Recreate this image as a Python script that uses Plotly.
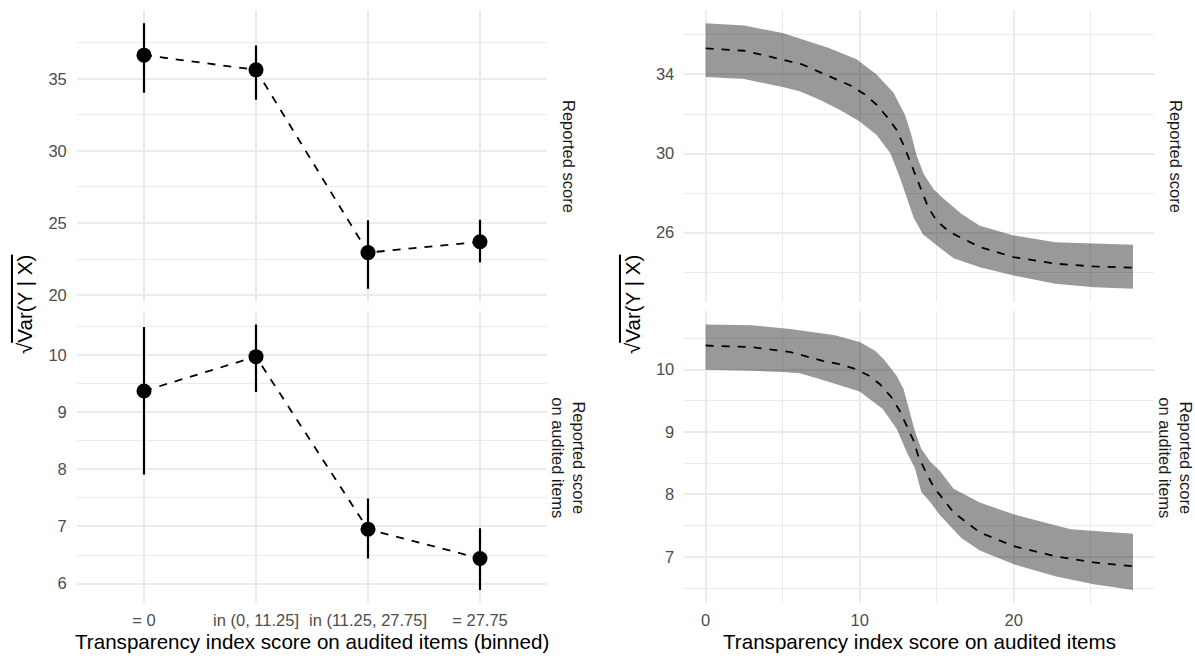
import plotly.graph_objects as go

# ---------------- data ----------------
bins = ["= 0", "in (0, 11.25]", "in (11.25, 27.75]", "= 27.75"]

reported_est = [36.64, 35.62, 22.95, 23.70]
reported_lo = [34.03, 33.55, 20.44, 22.27]
reported_hi = [38.85, 37.30, 25.20, 25.23]

audited_est = [9.37, 9.97, 6.95, 6.44]
audited_lo = [7.91, 9.35, 6.44, 5.89]
audited_hi = [10.49, 10.53, 7.49, 6.97]

# continuous fit, "Reported score"
rep_mean_x = [0, 2.5, 5, 6.3, 7.4, 8.4, 9.4, 10.35, 11.1, 11.85, 12.4, 12.85, 13.25,
              13.6, 14.0, 14.45, 15.0, 15.8, 17.8, 20, 22.7, 25.2, 27.75]
rep_mean_y = [35.32, 35.20, 34.75, 34.50, 34.12, 33.80, 33.44, 32.98, 32.47, 31.79, 31.19,
              30.43, 29.66, 28.90, 28.13, 27.28, 26.60, 26.05, 25.27, 24.76, 24.43, 24.29, 24.23]
rep_upper_x = [0, 2.5, 5, 8, 9.8, 11.1, 12.2, 12.95, 13.35, 13.7, 14.15, 14.8, 15.4,
               16.6, 17.8, 20, 22.7, 25.2, 27.75]
rep_upper_y = [36.59, 36.47, 36.10, 35.34, 34.77, 34.00, 33.07, 31.95, 30.95, 29.90, 28.98,
               28.20, 27.75, 26.95, 26.35, 25.86, 25.52, 25.44, 25.39]
rep_lower_x = [0, 2.5, 5, 6.1, 7.4, 8.7, 10.0, 11.1, 12.0, 12.6, 13.05, 13.5, 14.1,
               15.2, 16.1, 17.8, 20, 22.7, 25.2, 27.75]
rep_lower_y = [33.87, 33.77, 33.36, 33.15, 32.72, 32.21, 31.62, 30.94, 30.00, 28.81, 27.79,
               26.77, 25.92, 25.24, 24.70, 24.25, 23.83, 23.41, 23.24, 23.16]

# continuous fit, "Reported score on audited items"
aud_mean_x = [0, 3, 5.5, 7.6, 8.6, 9.6, 10.55, 11.3, 12.05, 12.6, 13.05, 13.5, 13.8,
              14.25, 14.8, 16.1, 17.8, 20, 22.7, 25.2, 27.75]
aud_mean_y = [10.385, 10.36, 10.28, 10.14, 10.09, 10.02, 9.91, 9.77, 9.56, 9.34, 9.10,
              8.86, 8.62, 8.38, 8.12, 7.71, 7.39, 7.17, 7.01, 6.91, 6.85]
aud_upper_x = [0, 3, 5.5, 8.4, 10, 11.0, 11.55, 12.4, 12.85, 13.25, 13.6, 14.0, 14.6,
               15.2, 16.1, 17.8, 20, 23.7, 27.75]
aud_upper_y = [10.72, 10.71, 10.65, 10.55, 10.44, 10.30, 10.17, 9.90, 9.69, 9.32, 9.00,
               8.73, 8.52, 8.38, 8.09, 7.87, 7.68, 7.44, 7.37]
aud_lower_x = [0, 3, 5, 6.1, 7.4, 10, 11.5, 12.4, 13.05, 13.6, 14.0, 14.6, 15.2, 16.6,
               17.8, 20, 22.7, 25.2, 27.75]
aud_lower_y = [9.995, 9.98, 9.96, 9.94, 9.85, 9.65, 9.37, 9.05, 8.68, 8.41, 8.04, 7.87,
               7.67, 7.30, 7.10, 6.88, 6.69, 6.56, 6.47]

strip_top = "Reported score"
strip_bottom = "Reported score<br>on audited items"
x_title_left = "Transparency index score on audited items (binned)"
x_title_right = "Transparency index score on audited items"
y_title = "√<span style='text-decoration:overline'>Var(Y | X)</span>"

# ---------------- style ----------------
W, H = 1195, 660
FONT = "Liberation Sans, Arial, Helvetica, sans-serif"
GRID = "#EBEBEB"
TICK_COL = "#4D4D4D"
TICK_SIZE = 16.5
TITLE_SIZE = 20.6
BAND = "rgba(0,0,0,0.4)"


def px_x(p):
    return p / W


def px_y(p):
    return 1 - p / H


LEFT_DOM = [px_x(76.8), px_x(547.2)]
RIGHT_DOM = [px_x(684.3), px_x(1154.4)]
TOP_DOM = [px_y(303), px_y(10)]
BOT_DOM = [px_y(605), px_y(312.3)]


def expand(lo, hi, f=0.05):
    s = hi - lo
    return [lo - f * s, hi + f * s]


fig = go.Figure()


def add_points(est, lo, hi, xa, ya):
    fig.add_trace(go.Scatter(
        x=bins, y=est, mode="lines", xaxis=xa, yaxis=ya,
        line=dict(color="black", width=1.8, dash="8px,8px"), hoverinfo="skip"))
    fig.add_trace(go.Scatter(
        x=bins, y=est, mode="markers", xaxis=xa, yaxis=ya,
        marker=dict(color="black", size=15),
        error_y=dict(type="data", symmetric=False,
                     array=[h - e for h, e in zip(hi, est)],
                     arrayminus=[e - l for e, l in zip(est, lo)],
                     width=0, thickness=2.2, color="black"),
        hoverinfo="skip"))


def add_band(mx, my, ux, uy, lx, ly, xa, ya):
    fig.add_trace(go.Scatter(
        x=list(ux) + list(lx)[::-1], y=list(uy) + list(ly)[::-1],
        mode="lines", fill="toself", fillcolor=BAND, line=dict(width=0),
        xaxis=xa, yaxis=ya, hoverinfo="skip"))
    fig.add_trace(go.Scatter(
        x=mx, y=my, mode="lines", xaxis=xa, yaxis=ya,
        line=dict(color="black", width=1.8, dash="8px,8px"), hoverinfo="skip"))


add_points(reported_est, reported_lo, reported_hi, "x", "y")
add_points(audited_est, audited_lo, audited_hi, "x2", "y2")
add_band(rep_mean_x, rep_mean_y, rep_upper_x, rep_upper_y, rep_lower_x, rep_lower_y, "x3", "y3")
add_band(aud_mean_x, aud_mean_y, aud_upper_x, aud_upper_y, aud_lower_x, aud_lower_y, "x4", "y4")

base = dict(showline=False, zeroline=False, ticks="", showgrid=True,
            gridcolor=GRID, gridwidth=1.5, fixedrange=True,
            tickfont=dict(size=TICK_SIZE, color=TICK_COL, family=FONT))


def minor(dt):
    return dict(dtick=dt, tick0=0, showgrid=True, gridcolor=GRID, gridwidth=0.8, ticks="")


cat_range = [-0.6, len(bins) - 1 + 0.6]
xr = expand(0, 27.75)

fig.update_layout(
    width=W, height=H, margin=dict(l=0, r=0, t=0, b=0, pad=0),
    paper_bgcolor="white", plot_bgcolor="white", showlegend=False,
    font=dict(family=FONT, color="black"),
    xaxis=dict(base, domain=LEFT_DOM, anchor="y", type="category",
               categoryorder="array", categoryarray=bins, range=cat_range,
               showticklabels=False),
    xaxis2=dict(base, domain=LEFT_DOM, anchor="y2", type="category",
                categoryorder="array", categoryarray=bins, range=cat_range,
                ticklabelstandoff=5),
    xaxis3=dict(base, domain=RIGHT_DOM, anchor="y3", range=xr, dtick=10, tick0=0,
                minor=minor(5), showticklabels=False),
    xaxis4=dict(base, domain=RIGHT_DOM, anchor="y4", range=xr, dtick=10, tick0=0,
                minor=minor(5), ticklabelstandoff=5),
    yaxis=dict(base, domain=TOP_DOM, anchor="x",
               range=expand(min(reported_lo), max(reported_hi)),
               dtick=5, tick0=0, minor=minor(2.5), ticklabelstandoff=9),
    yaxis2=dict(base, domain=BOT_DOM, anchor="x2",
                range=expand(min(audited_lo), max(audited_hi)),
                dtick=1, tick0=0, minor=minor(0.5), ticklabelstandoff=9),
    yaxis3=dict(base, domain=TOP_DOM, anchor="x3",
                range=expand(min(rep_lower_y), max(rep_upper_y)),
                dtick=4, tick0=2, minor=minor(2), ticklabelstandoff=9),
    yaxis4=dict(base, domain=BOT_DOM, anchor="x4",
                range=expand(min(aud_lower_y), max(aud_upper_y)),
                dtick=1, tick0=0, minor=minor(0.5), ticklabelstandoff=9),
)

ann = []
title_font = dict(size=TITLE_SIZE, color="black", family=FONT)
strip_font = dict(size=TICK_SIZE, color="#1A1A1A", family=FONT)
mid_left = (LEFT_DOM[0] + LEFT_DOM[1]) / 2
mid_right = (RIGHT_DOM[0] + RIGHT_DOM[1]) / 2
for t, xc in [(x_title_left, mid_left), (x_title_right, mid_right)]:
    ann.append(dict(text=t, x=xc, y=px_y(643), xref="paper", yref="paper",
                    xanchor="center", yanchor="middle", showarrow=False, font=title_font))
for xc in [px_x(24), px_x(632)]:
    ann.append(dict(text=y_title, x=xc, y=px_y(306), xref="paper", yref="paper",
                    xanchor="center", yanchor="middle", showarrow=False,
                    textangle=-90, font=title_font))
for xc in [px_x(569), px_x(1176)]:
    ann.append(dict(text=strip_top, x=xc, y=(TOP_DOM[0] + TOP_DOM[1]) / 2,
                    xref="paper", yref="paper", xanchor="center", yanchor="middle",
                    showarrow=False, textangle=90, font=strip_font))
    ann.append(dict(text=strip_bottom, x=xc, y=(BOT_DOM[0] + BOT_DOM[1]) / 2,
                    xref="paper", yref="paper", xanchor="center", yanchor="middle",
                    showarrow=False, textangle=90, font=strip_font))
fig.update_layout(annotations=ann)

fig.write_html("out.html", config={"displayModeBar": False},
               post_script="document.body.style.margin='0px';")
